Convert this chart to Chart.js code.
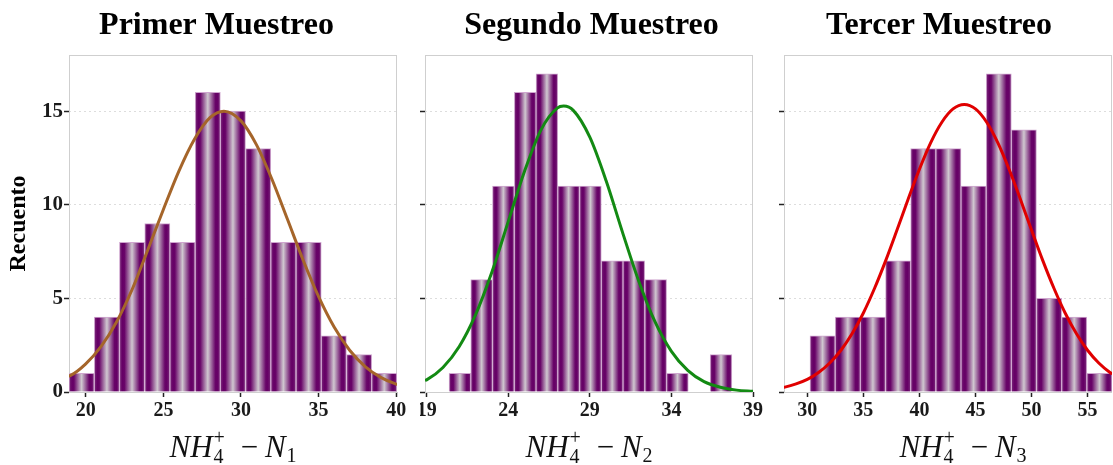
<!DOCTYPE html>
<html><head><meta charset="utf-8">
<script src="https://cdn.jsdelivr.net/npm/chart.js@4/dist/chart.umd.min.js"></script>
<style>
html,body{margin:0;padding:0;background:#fff;}
#wrap{position:relative;width:1113px;height:465px;overflow:hidden;background:#fff;}
canvas{position:absolute;top:0;}
</style></head><body>
<div id="wrap">
<canvas id="c1" width="433" height="465" style="left:0px"></canvas>
<canvas id="c2" width="343" height="465" style="left:420px"></canvas>
<canvas id="c3" width="348" height="465" style="left:765px"></canvas>
</div>
<script>
// ---- text ----
const panelTitles = ['Primer Muestreo', 'Segundo Muestreo', 'Tercer Muestreo'];
const yAxisTitle = 'Recuento';
const xLabelMain = 'NH';
const xLabelSup = '+';
const xLabelSubA = '4';
const xLabelMinus = '\u2212';
const xLabelN = 'N';
const xLabelIndex = ['1', '2', '3'];

// ---- histogram bins (centres) and counts ----
const binCenters1 = [19.73, 21.36, 22.98, 24.61, 26.23, 27.86, 29.48, 31.11, 32.73, 34.36, 35.98, 37.61, 39.23];
const counts1     = [1, 4, 8, 9, 8, 16, 15, 13, 8, 8, 3, 2, 1];
const binCenters2 = [21.04, 22.37, 23.70, 25.04, 26.37, 27.70, 29.04, 30.37, 31.70, 33.04, 34.37, 35.70, 37.04];
const counts2     = [1, 6, 11, 16, 17, 11, 11, 7, 7, 6, 1, 0, 2];
const binCenters3 = [31.36, 33.61, 35.85, 38.10, 40.34, 42.59, 44.83, 47.08, 49.32, 51.57, 53.81, 56.06];
const counts3     = [3, 4, 4, 7, 13, 13, 11, 17, 14, 5, 4, 1];

// ---- fitted normal curves ----
const curveX1 = [18.9, 19, 20, 21, 22, 23, 24, 25, 26, 27, 28, 28.9, 30, 31, 32, 33, 34, 35, 36, 37, 38, 39, 40, 40.1];
const curveY1 = [0.85, 0.87, 1.50, 2.45, 3.77, 5.50, 7.60, 9.75, 11.8, 13.5, 14.65, 15.0, 14.48, 13.2, 11.35, 9.21, 7.05, 5.09, 3.47, 2.23, 1.36, 0.78, 0.42, 0.40];
const curveX2 = [18.9, 19, 20, 21, 22, 23, 24, 25, 26, 27, 27.4, 28, 29, 30, 31, 32, 33, 34, 35, 36, 37, 38, 39];
const curveY2 = [0.62, 0.65, 1.31, 2.43, 4.13, 6.41, 9.10, 11.79, 13.99, 15.16, 15.27, 15.03, 13.61, 11.28, 8.54, 5.92, 3.74, 2.17, 1.15, 0.55, 0.25, 0.10, 0.04];
const curveX3 = [27.9, 28, 29, 30, 31, 32, 33, 34, 35, 36, 37, 38, 39, 40, 41, 42, 43, 44, 45, 46, 47, 48, 49, 50, 51, 52, 53, 54, 55, 56, 57, 57.2];
const curveY3 = [0.25, 0.26, 0.43, 0.67, 1.04, 1.55, 2.23, 3.12, 4.22, 5.54, 7.03, 8.65, 10.31, 11.9, 13.31, 14.41, 15.12, 15.36, 15.12, 14.41, 13.31, 11.9, 10.31, 8.65, 7.03, 5.54, 4.22, 3.12, 2.23, 1.55, 1.04, 0.96];

// ---- ticks ----
const xTicks1 = [20, 25, 30, 35, 40];
const xTicks2 = [19, 24, 29, 34, 39];
const xTicks3 = [30, 35, 40, 45, 50, 55];
const yTicks  = [0, 5, 10, 15];

const SERIF = '"Liberation Serif", "Times New Roman", serif';
const PURPLE = '#660066';

function barFill(c, binW) {
  const chart = c.chart;
  const xs = chart.scales && chart.scales.x;
  if (!chart.chartArea || c.type !== 'data' || !xs || !c.parsed) return PURPLE;
  const cx = c.parsed.x;
  const l = xs.getPixelForValue(cx - binW / 2);
  const r = xs.getPixelForValue(cx + binW / 2);
  if (!isFinite(l) || !isFinite(r) || r <= l) return PURPLE;
  const g = chart.ctx.createLinearGradient(l, 0, r, 0);
  g.addColorStop(0.00, '#7c2e7c');
  g.addColorStop(0.12, '#660066');
  g.addColorStop(0.20, '#680468');
  g.addColorStop(0.50, '#d0c8d0');
  g.addColorStop(0.80, '#680468');
  g.addColorStop(0.88, '#660066');
  g.addColorStop(1.00, '#7c2e7c');
  return g;
}

const framePlugin = {
  id: 'frame',
  beforeDatasetsDraw(chart) {
    const a = chart.chartArea, ctx = chart.ctx;
    ctx.save();
    ctx.strokeStyle = '#cfcfcf';
    ctx.lineWidth = 1;
    ctx.strokeRect(a.left + 0.5, a.top + 0.5, a.right - a.left - 1, a.bottom - a.top);
    ctx.restore();
  }
};

function xLabelPlugin(sub, dx) {
  return {
    id: 'xlabel',
    afterDraw(chart) {
      const a = chart.chartArea, ctx = chart.ctx;
      const cx = (a.left + a.right) / 2 + dx;
      const base = 457;
      const x0 = cx - 63.5;
      ctx.save();
      ctx.fillStyle = '#111';
      ctx.textBaseline = 'alphabetic';
      ctx.textAlign = 'left';
      ctx.font = 'italic 31px ' + SERIF;
      ctx.fillText(xLabelMain, x0, base);
      ctx.font = '20px ' + SERIF;
      ctx.fillText(xLabelSup, x0 + 44, base - 13);
      ctx.fillText(xLabelSubA, x0 + 44, base + 6);
      ctx.font = '31px ' + SERIF;
      ctx.textAlign = 'center';
      ctx.fillText(xLabelMinus, x0 + 80, base);
      ctx.textAlign = 'left';
      ctx.font = 'italic 31px ' + SERIF;
      ctx.fillText(xLabelN, x0 + 95.5, base);
      ctx.font = '20px ' + SERIF;
      ctx.fillText(sub, x0 + 117, base + 5);
      ctx.restore();
    }
  };
}

const panels = [
  { id: 'c1', title: panelTitles[0], centers: binCenters1, counts: counts1, cx: curveX1, cy: curveY1,
    xTicks: xTicks1, xMin: 18.92, xMax: 40.05, color: '#a5652a', yWidth: 69, padRight: 36, showY: true, labelDx: 0, sub: xLabelIndex[0] },
  { id: 'c2', title: panelTitles[1], centers: binCenters2, counts: counts2, cx: curveX2, cy: curveY2,
    xTicks: xTicks2, xMin: 18.9, xMax: 39.0, color: '#138a13', yWidth: 5, padRight: 10, showY: false, labelDx: 0, sub: xLabelIndex[1] },
  { id: 'c3', title: panelTitles[2], centers: binCenters3, counts: counts3, cx: curveX3, cy: curveY3,
    xTicks: xTicks3, xMin: 27.92, xMax: 57.18, color: '#e00000', yWidth: 19, padRight: 1, showY: false, labelDx: 15, sub: xLabelIndex[2] }
];

function makeChart(p) {
  const ctx = document.getElementById(p.id).getContext('2d');
  const barData = p.centers.map((x, i) => ({ x: x, y: p.counts[i] }));
  const lineData = p.cx.map((x, i) => ({ x: x, y: p.cy[i] }));
  const binW = p.centers[1] - p.centers[0];
  return new Chart(ctx, {
    type: 'bar',
    data: {
      datasets: [
        { type: 'line', data: lineData, borderColor: p.color, borderWidth: 3, pointRadius: 0,
          cubicInterpolationMode: 'monotone', fill: false, order: 0 },
        { type: 'bar', data: barData, backgroundColor: (c) => barFill(c, binW),
          borderColor: '#cfa6cf', borderWidth: 1, barPercentage: 1, categoryPercentage: 1, order: 1 }
      ]
    },
    options: {
      responsive: false, animation: false, devicePixelRatio: 1,
      layout: { padding: { left: 0, right: 0, top: 0, bottom: 0 } },
      plugins: {
        legend: { display: false }, tooltip: { enabled: false },
        title: { display: true, text: p.title, color: '#000',
          font: { family: SERIF, size: 32, weight: 'bold', lineHeight: 1.2 },
          padding: { top: 7, bottom: 9.6 } }
      },
      scales: {
        x: {
          type: 'linear', min: p.xMin, max: p.xMax, offset: false,
          afterBuildTicks: (s) => { s.ticks = p.xTicks.map(v => ({ value: v })); },
          afterFit: (s) => { s.height = 73; s.paddingLeft = 0; s.paddingRight = 0; },
          grid: { display: true, drawOnChartArea: false, drawTicks: true, tickLength: 5,
                  tickColor: '#222', tickWidth: 1.5, offset: false },
          border: { display: false },
          ticks: { color: '#1a1a1a', padding: 2, maxRotation: 0, autoSkip: false,
                   font: { family: SERIF, size: 20, weight: 'bold' },
                   callback: (v) => String(v) }
        },
        y: {
          type: 'linear', min: 0, max: 18,
          afterBuildTicks: (s) => { s.ticks = yTicks.map(v => ({ value: v })); },
          afterFit: (s) => { s.width = p.yWidth; s.paddingTop = 0; s.paddingBottom = 0; },
          grid: { color: '#dddddd', lineWidth: 1, drawTicks: true, tickLength: 5,
                  tickColor: '#222', tickWidth: 1.5, tickBorderDash: [] },
          border: { display: false, dash: [2, 3] },
          ticks: { display: p.showY, color: '#1a1a1a', padding: 1,
                   font: { family: SERIF, size: 21, weight: 'bold' } },
          title: { display: p.showY, text: yAxisTitle, color: '#000',
                   font: { family: SERIF, size: 24, weight: 'bold' }, padding: { top: 4, bottom: 0 } }
        },
        pad: {
          type: 'linear', position: 'right', display: true, min: 0, max: 1,
          afterFit: (s) => { s.width = p.padRight; s.paddingTop = 0; s.paddingBottom = 0; },
          grid: { display: false, drawTicks: false }, border: { display: false },
          ticks: { display: false }
        }
      }
    },
    plugins: [framePlugin, xLabelPlugin(p.sub, p.labelDx)]
  });
}

panels.forEach(makeChart);
</script>
</body></html>
